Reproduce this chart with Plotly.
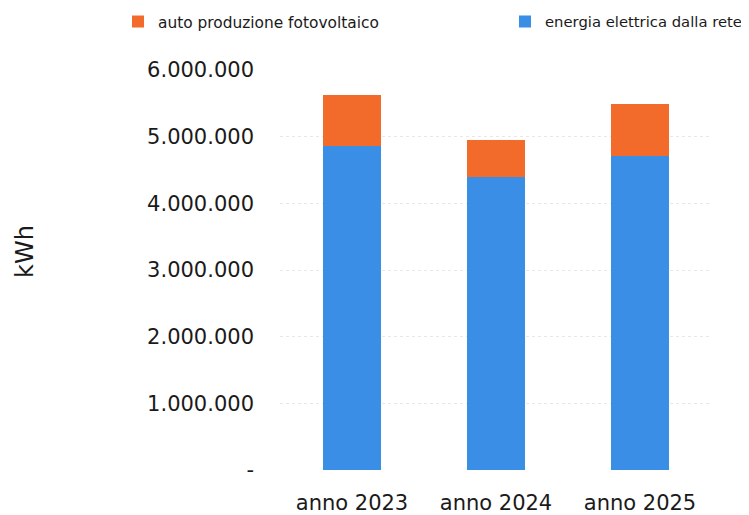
import plotly.graph_objects as go

categories = ["anno 2023", "anno 2024", "anno 2025"]
rete = [4860000, 4400000, 4710000]
fotovoltaico = [760000, 550000, 780000]
tick_vals = [0, 1000000, 2000000, 3000000, 4000000, 5000000, 6000000]
tick_text = ["-", "1.000.000", "2.000.000", "3.000.000", "4.000.000", "5.000.000", "6.000.000"]

FONT = "DejaVu Sans"
W, H = 741, 507  # page adds an 8px body margin

fig = go.Figure()
fig.add_trace(go.Bar(x=categories, y=rete, name="energia elettrica dalla rete",
                     marker=dict(color="#3A8EE6", line=dict(width=0)), width=0.4,
                     legend="legend2"))
fig.add_trace(go.Bar(x=categories, y=fotovoltaico, name="auto produzione fotovoltaico",
                     marker=dict(color="#F26B2A", line=dict(width=0)), width=0.4,
                     legend="legend"))

legend_common = dict(orientation="h", xref="container", yref="container",
                     xanchor="left", yanchor="middle", itemwidth=30,
                     bgcolor="rgba(0,0,0,0)")

fig.update_layout(
    width=W, height=H,
    barmode="stack",
    plot_bgcolor="white", paper_bgcolor="white",
    margin=dict(l=272, r=37, t=62, b=45, autoexpand=False),
    font=dict(family=FONT, color="#1a1a1a"),
    legend=dict(x=110 / W, y=1 - 14 / H,
                font=dict(family=FONT, size=15.4, color="#1a1a1a"), **legend_common),
    legend2=dict(x=497 / W, y=1 - 14 / H,
                 font=dict(family=FONT, size=14.8, color="#1a1a1a"), **legend_common),
    xaxis=dict(showline=False, showgrid=False, ticks="",
               tickfont=dict(size=21), ticklabelstandoff=18),
    yaxis=dict(range=[0, 6000000], tickvals=tick_vals, ticktext=tick_text,
               showline=False, zeroline=False, showgrid=True,
               gridcolor="#e8e8e8", griddash="dot", gridwidth=1,
               tickfont=dict(size=21), ticklabelstandoff=25),
    annotations=[dict(text="kWh", textangle=-90, xref="paper", yref="paper",
                      x=(25 - 280) / 432, y=(470 - 252) / 400,
                      xanchor="center", yanchor="middle", showarrow=False,
                      font=dict(family=FONT, size=24, color="#1a1a1a"))],
    showlegend=True,
)

fig.write_html("out.html")
